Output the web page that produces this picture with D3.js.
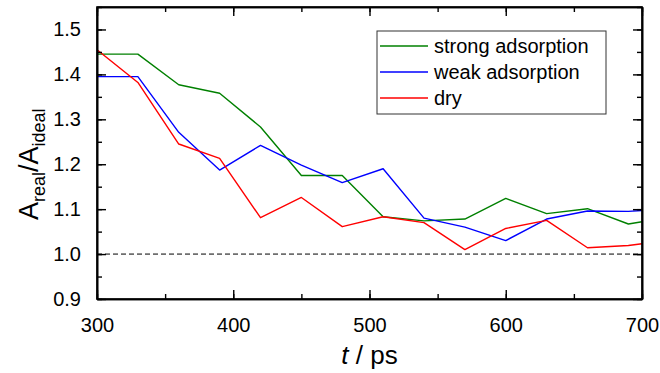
<!DOCTYPE html>
<html>
<head>
<meta charset="utf-8">
<script src="https://cdn.jsdelivr.net/npm/d3@7"></script>
<style>
  body { margin: 0; background: #fff; }
  svg { display: block; }
</style>
</head>
<body>
<div id="chart"></div>
<script>
const times = [300, 330, 360, 390, 420, 450, 480, 510, 540, 570, 600, 630, 660, 690, 700];
const strongValues = [1.445, 1.445, 1.377, 1.358, 1.283, 1.175, 1.175, 1.083, 1.074, 1.078, 1.124, 1.090, 1.101, 1.067, 1.072];
const weakValues = [1.395, 1.395, 1.271, 1.187, 1.242, 1.198, 1.159, 1.190, 1.080, 1.060, 1.030, 1.078, 1.096, 1.095, 1.097];
const dryValues = [1.455, 1.382, 1.245, 1.213, 1.081, 1.126, 1.061, 1.083, 1.070, 1.010, 1.057, 1.075, 1.014, 1.019, 1.023];
const xTicks = [300, 400, 500, 600, 700];
const yTicks = [0.9, 1.0, 1.1, 1.2, 1.3, 1.4, 1.5];
const referenceLevel = 1.0;

const seriesList = [
    { id: "strong", label: "strong adsorption", color: "#008000", values: strongValues },
    { id: "weak", label: "weak adsorption", color: "#0000ff", values: weakValues },
    { id: "dry", label: "dry", color: "#ff0000", values: dryValues }
];

const width = 660, height = 373;
const margin = { top: 7, right: 18, bottom: 74, left: 97 };
const plotWidth = width - margin.left - margin.right;
const plotHeight = height - margin.top - margin.bottom;
const fontFamily = "Liberation Sans, Arial, sans-serif";

const x = d3.scaleLinear().domain([300, 700]).range([0, plotWidth]);
const y = d3.scaleLinear().domain([0.9, 1.55]).range([plotHeight, 0]);

const svg = d3.select("#chart").append("svg")
    .attr("width", width)
    .attr("height", height)
    .attr("font-family", fontFamily);

const g = svg.append("g").attr("transform", `translate(${margin.left},${margin.top})`);

// dashed reference line at 1.0
g.append("line")
    .attr("x1", x(300)).attr("x2", x(700))
    .attr("y1", y(referenceLevel)).attr("y2", y(referenceLevel))
    .attr("stroke", "#000")
    .attr("stroke-width", 1)
    .attr("stroke-dasharray", "5,3");

const lineGen = d3.line()
    .x((d, i) => x(times[i]))
    .y(d => y(d));

g.append("g").selectAll("path")
    .data(seriesList)
    .join("path")
    .attr("fill", "none")
    .attr("stroke", d => d.color)
    .attr("stroke-width", 1.4)
    .attr("stroke-linejoin", "round")
    .attr("d", d => lineGen(d.values));

// ticks on all four sides, pointing inward
const minorX = d3.range(300, 701, 50);
const minorY = d3.range(0.9, 1.551, 0.05);

function styleAxis(sel) {
    sel.attr("font-family", fontFamily).attr("font-size", 20);
    sel.select(".domain").attr("stroke", "#000").attr("stroke-width", 1.6);
    sel.selectAll(".tick line").attr("stroke", "#000").attr("stroke-width", 1.4);
    sel.selectAll(".tick text").attr("fill", "#000");
}

g.append("g")
    .attr("transform", `translate(0,${plotHeight})`)
    .call(d3.axisBottom(x).tickValues(minorX).tickSize(-5).tickSizeOuter(0).tickFormat(""))
    .call(styleAxis);
g.append("g")
    .attr("transform", `translate(0,${plotHeight})`)
    .call(d3.axisBottom(x).tickValues(xTicks).tickSize(-9).tickSizeOuter(0).tickPadding(19).tickFormat(d3.format("d")))
    .call(styleAxis);

g.append("g")
    .call(d3.axisTop(x).tickValues(minorX).tickSize(-5).tickSizeOuter(0).tickFormat(""))
    .call(styleAxis);
g.append("g")
    .call(d3.axisTop(x).tickValues(xTicks).tickSize(-9).tickSizeOuter(0).tickFormat(""))
    .call(styleAxis);

g.append("g")
    .call(d3.axisLeft(y).tickValues(minorY).tickSize(-5).tickSizeOuter(0).tickFormat(""))
    .call(styleAxis);
g.append("g")
    .call(d3.axisLeft(y).tickValues(yTicks).tickSize(-9).tickSizeOuter(0).tickPadding(16).tickFormat(d3.format(".1f")))
    .call(styleAxis);

g.append("g")
    .attr("transform", `translate(${plotWidth},0)`)
    .call(d3.axisRight(y).tickValues(minorY).tickSize(-5).tickSizeOuter(0).tickFormat(""))
    .call(styleAxis);
g.append("g")
    .attr("transform", `translate(${plotWidth},0)`)
    .call(d3.axisRight(y).tickValues(yTicks).tickSize(-9).tickSizeOuter(0).tickFormat(""))
    .call(styleAxis);

// axis titles
svg.append("text")
    .attr("x", margin.left + plotWidth / 2)
    .attr("y", 364)
    .attr("text-anchor", "middle")
    .attr("font-size", 26)
    .attr("fill", "#000")
    .call(t => {
        t.append("tspan").attr("font-style", "italic").text("t");
        t.append("tspan").text(" / ps");
    });

svg.append("text")
    .attr("transform", `translate(38,${margin.top + y(1.2)}) rotate(-90)`)
    .attr("text-anchor", "middle")
    .attr("font-size", 27)
    .attr("fill", "#000")
    .call(t => {
        t.append("tspan").text("A");
        t.append("tspan").attr("dy", 7).attr("font-size", 18).text("real");
        t.append("tspan").attr("dy", -7).text("/A");
        t.append("tspan").attr("dy", 7).attr("font-size", 18).text("ideal");
    });

// legend
const legend = svg.append("g").attr("transform", "translate(377,31)");
legend.append("rect")
    .attr("width", 229).attr("height", 83)
    .attr("fill", "#fff")
    .attr("stroke", "#333")
    .attr("stroke-width", 1);

const legendItems = legend.selectAll("g.item")
    .data(seriesList)
    .join("g")
    .attr("class", "item")
    .attr("transform", (d, i) => `translate(0,${15 + i * 26})`);

legendItems.append("line")
    .attr("x1", 3).attr("x2", 51)
    .attr("y1", 0).attr("y2", 0)
    .attr("stroke", d => d.color)
    .attr("stroke-width", 1.4);

legendItems.append("text")
    .attr("x", 57)
    .attr("y", 7)
    .attr("font-size", 20)
    .attr("fill", "#000")
    .text(d => d.label);

// plot frame, drawn last so it sits on top
svg.append("rect")
    .attr("x", margin.left + x(300))
    .attr("y", margin.top + y(1.55))
    .attr("width", x(700) - x(300))
    .attr("height", y(0.9) - y(1.55))
    .attr("fill", "none")
    .attr("stroke", "#000")
    .attr("stroke-width", 1.6);
</script>
</body>
</html>
